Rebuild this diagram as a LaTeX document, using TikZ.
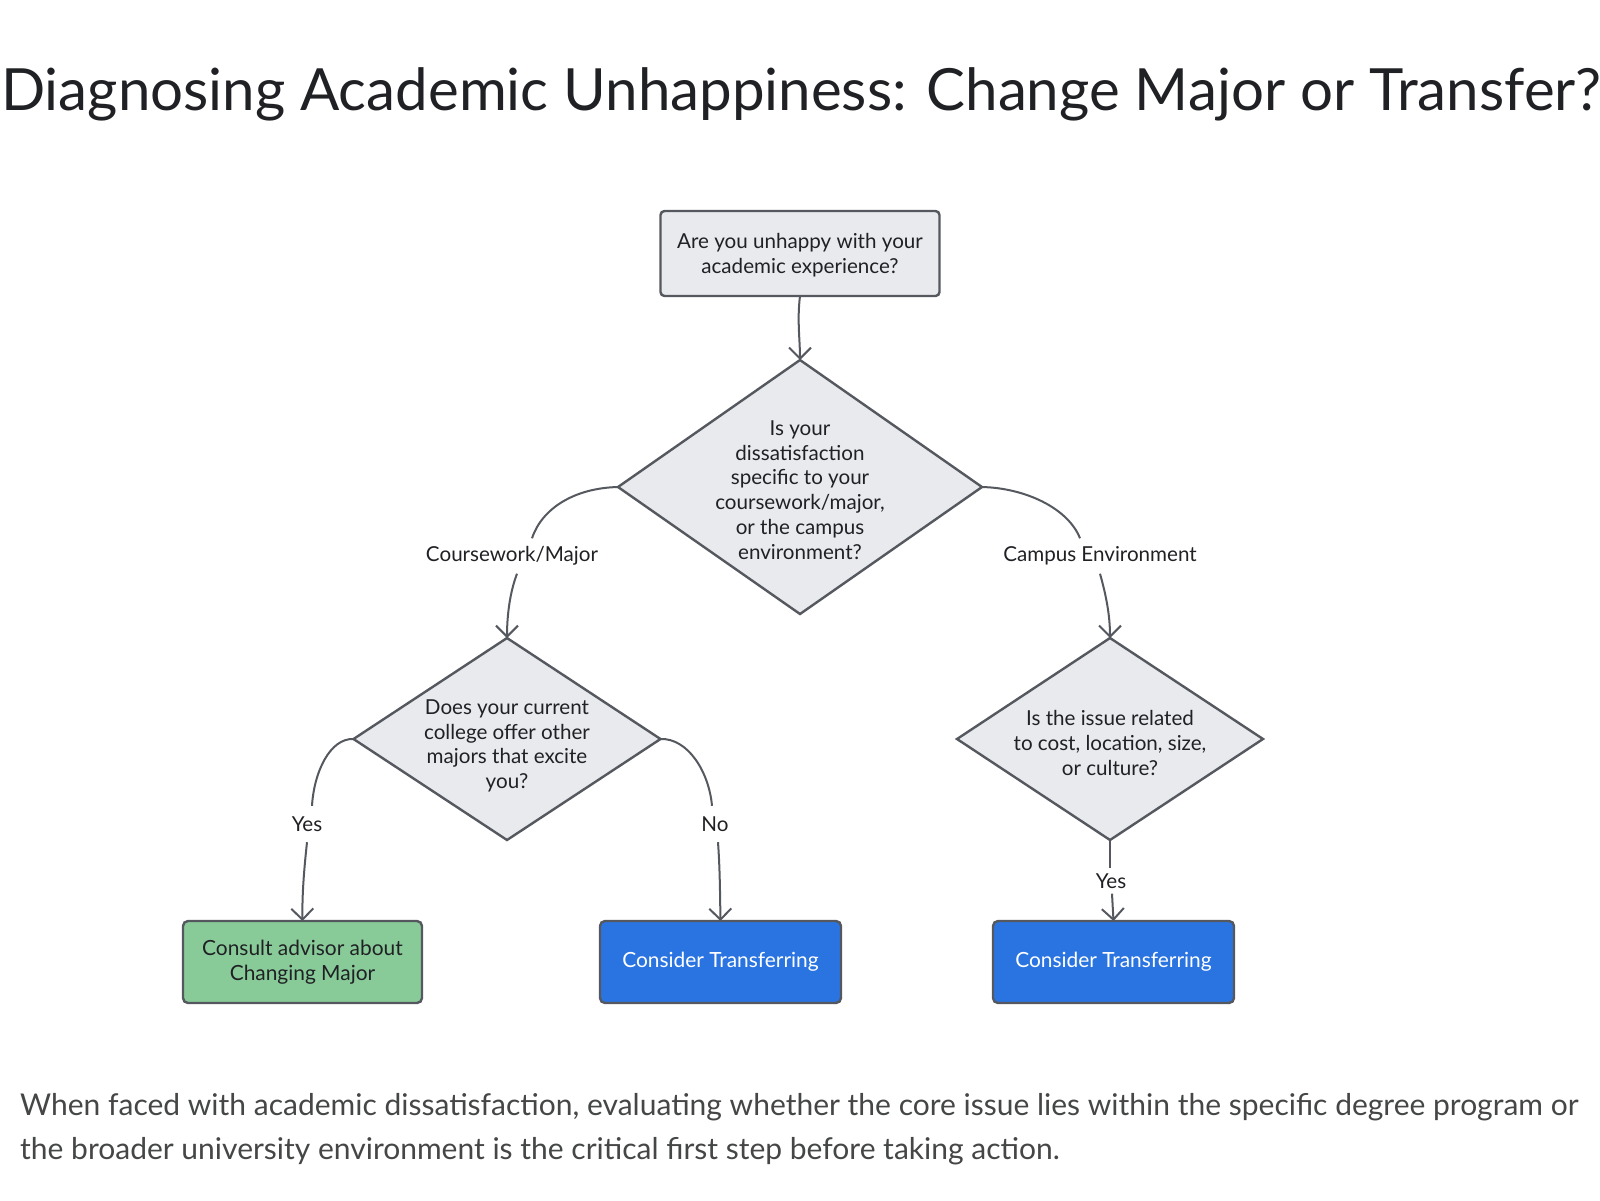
\documentclass[tikz,border=0pt]{standalone}
\usepackage{fontspec}
\setmainfont{Lato}
\usetikzlibrary{shapes.geometric,arrows.meta}
\definecolor{edge}{HTML}{55595F}
\definecolor{boxfill}{HTML}{E8EAED}
\definecolor{gfill}{HTML}{88CB99}
\definecolor{bfill}{HTML}{2A74E2}
\definecolor{ink}{HTML}{202124}
\definecolor{captc}{HTML}{444746}
\begin{document}
\begin{tikzpicture}[x=1pt,y=-1pt,
  qbox/.style={draw=edge, line width=2.4pt, fill=boxfill, rounded corners=4pt, inner sep=0pt, outer sep=0pt},
  gbox/.style={draw=edge, line width=2.4pt, fill=gfill, rounded corners=5pt, inner sep=0pt, outer sep=0pt, minimum width=239pt, minimum height=82pt, align=center, text=ink, font=\fontsize{20.9}{24.5}\selectfont},
  bbox/.style={draw=edge, line width=2.4pt, fill=bfill, rounded corners=5pt, inner sep=0pt, outer sep=0pt, minimum width=241pt, minimum height=82pt, align=center, text=white, font=\fontsize{20.9}{24.5}\selectfont},
  dia/.style={shape=diamond, draw=edge, line width=2.4pt, fill=boxfill, inner sep=0pt, outer sep=0pt},
  dtext/.style={align=center, text=ink, inner sep=0pt, font=\fontsize{20.6}{24.7}\selectfont},
  elabel/.style={text=ink, inner sep=0pt, font=\fontsize{20.6}{24}\selectfont},
  conn/.style={draw=edge, line width=2pt},
  arr/.style={conn, -{Straight Barb[length=11pt,width=22pt,line width=2pt]}}
]
\useasboundingbox[fill=white] (0,0) rectangle (1600,1200);

% title
\node[anchor=base west, inner sep=0pt, text=ink, font=\fontsize{58.2}{62}\selectfont] (title) at (1,110) {Diagnosing Academic Unhappiness: Change Major or Transfer?};

% nodes
\node[qbox, minimum width=279pt, minimum height=85pt] (start) at (800,253.5) {};
\node[dtext] (startt) at (800,255) {Are you unhappy with your\\academic experience?};

\node[dia, minimum width=364pt, minimum height=254pt] (d1) at (800,487) {};
\node[dtext] (d1t) at (800,490) {Is your\\dissatisfaction\\specific to your\\coursework/major,\\or the campus\\environment?};

\node[dia, minimum width=307pt, minimum height=202pt] (d2) at (507,739) {};
\node[dtext] (d2t) at (507,746) {Does your current\\college offer other\\majors that excite\\you?};

\node[dia, minimum width=306pt, minimum height=202pt] (d3) at (1110,739) {};
\node[dtext] (d3t) at (1110,743) {Is the issue related\\to cost, location, size,\\or culture?};

\node[gbox] (consult) at (302.5,962) {Consult advisor about\\Changing Major};
\node[bbox] (trans1) at (720.5,962) {Consider Transferring};
\node[bbox] (trans2) at (1113.5,962) {Consider Transferring};

% edge labels
\node[elabel, minimum height=35pt] (lcw) at (512,556) {Coursework/Major};
\node[elabel, minimum height=35pt] (lce) at (1100,556) {Campus Environment};
\node[elabel, minimum height=36pt] (lyes1) at (307,824) {Yes};
\node[elabel, minimum height=36pt] (lno) at (715,824) {No};
\node[elabel, minimum height=25pt] (lyes2) at (1111,881) {Yes};

% connectors
\draw[arr] (start.south) .. controls (797,320) and (800,340) .. (d1.north);

\draw[conn] (d1.west) .. controls (575,488) and (542,508) .. ([xshift=20pt]lcw.north);
\draw[arr] ([xshift=5pt]lcw.south) .. controls (510,592) and (507,615) .. (d2.north);

\draw[conn] (d1.east) .. controls (1025,488) and (1068,508) .. ([xshift=-20pt]lce.north);
\draw[arr] (lce.south) .. controls (1106,595) and (1110,615) .. (d3.north);

\draw[conn] (d2.west) .. controls (330,738) and (314,772) .. ([xshift=5pt]lyes1.north);
\draw[arr] (lyes1.south) .. controls (304,870) and (302,895) .. (consult.north);

\draw[conn] (d2.east) .. controls (688,738) and (709,772) .. ([xshift=-3pt]lno.north);
\draw[arr] ([xshift=3pt]lno.south) .. controls (720,870) and (720,895) .. (trans1.north);

\draw[conn] (d3.south) -- ([xshift=-1pt]lyes2.north);
\draw[arr] ([xshift=1pt]lyes2.south) -- (trans2.north);

% caption
\node[anchor=base west, align=left, inner sep=0pt, text=captc, font=\fontsize{30}{44}\selectfont] (caption) at (20,1159) {When faced with academic dissatisfaction, evaluating whether the core issue lies within the specific degree program or\\the broader university environment is the critical first step before taking action.};
\end{tikzpicture}
\end{document}
